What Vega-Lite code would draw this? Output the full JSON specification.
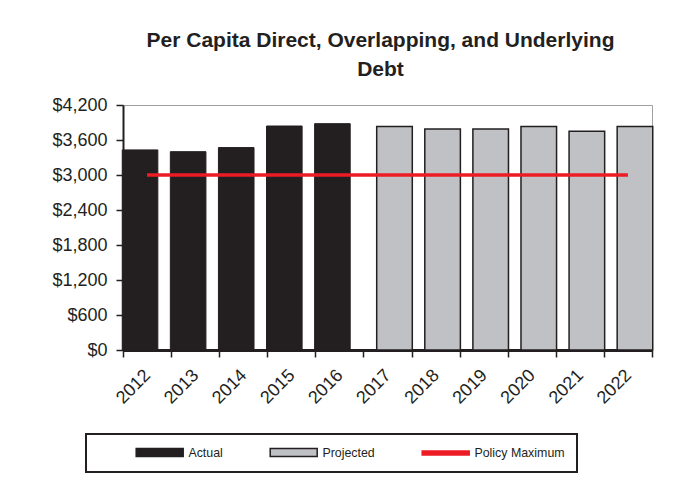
{
  "$schema": "https://vega.github.io/schema/vega-lite/v6.json",
  "width": 529,
  "height": 245,
  "autosize": {"type": "none"},
  "padding": {"left": 123, "top": 105, "right": 28, "bottom": 132},
  "background": "white",
  "title": {
    "text": ["Per Capita Direct, Overlapping,  and Underlying", "Debt"],
    "font": "Liberation Sans",
    "fontSize": 21,
    "fontWeight": "bold",
    "color": "#231f20",
    "lineHeight": 29,
    "dx": -7,
    "offset": 16
  },
  "config": {
    "view": {"stroke": "#a0a0a0", "strokeWidth": 1},
    "font": "Liberation Sans"
  },
  "datasets": {
    "debt": [
      {"year": "2012", "value": 3430, "type": "Actual"},
      {"year": "2013", "value": 3400, "type": "Actual"},
      {"year": "2014", "value": 3470, "type": "Actual"},
      {"year": "2015", "value": 3840, "type": "Actual"},
      {"year": "2016", "value": 3880, "type": "Actual"},
      {"year": "2017", "value": 3830, "type": "Projected"},
      {"year": "2018", "value": 3790, "type": "Projected"},
      {"year": "2019", "value": 3790, "type": "Projected"},
      {"year": "2020", "value": 3830, "type": "Projected"},
      {"year": "2021", "value": 3750, "type": "Projected"},
      {"year": "2022", "value": 3830, "type": "Projected"}
    ],
    "policy": [
      {"year": "2012", "value": 3000, "type": "Policy Maximum"},
      {"year": "2013", "value": 3000, "type": "Policy Maximum"},
      {"year": "2014", "value": 3000, "type": "Policy Maximum"},
      {"year": "2015", "value": 3000, "type": "Policy Maximum"},
      {"year": "2016", "value": 3000, "type": "Policy Maximum"},
      {"year": "2017", "value": 3000, "type": "Policy Maximum"},
      {"year": "2018", "value": 3000, "type": "Policy Maximum"},
      {"year": "2019", "value": 3000, "type": "Policy Maximum"},
      {"year": "2020", "value": 3000, "type": "Policy Maximum"},
      {"year": "2021", "value": 3000, "type": "Policy Maximum"},
      {"year": "2022", "value": 3000, "type": "Policy Maximum"}
    ]
  },
  "layer": [
    {
      "data": {"name": "debt"},
      "transform": [{"filter": "datum.type === 'Actual'"}],
      "mark": {"type": "bar", "xOffset": -7, "width": {"band": 0.74}, "strokeWidth": 1},
      "encoding": {
        "x": {
          "field": "year", "type": "ordinal",
          "scale": {"paddingInner": 0, "paddingOuter": 0},
          "axis": {
            "title": null, "labelAngle": -45, "labelFontSize": 18, "labelColor": "#231f20",
            "domainColor": "#231f20", "domainWidth": 3, "tickColor": "#231f20", "tickWidth": 1.5,
            "tickSize": 7, "tickBand": "extent", "labelPadding": 9, "labelOffset": -6,
            "labelOverlap": false, "grid": false
          }
        },
        "y": {
          "field": "value", "type": "quantitative",
          "scale": {"domain": [0, 4200], "nice": false},
          "axis": {
            "title": null, "values": [0, 600, 1200, 1800, 2400, 3000, 3600, 4200], "tickCount": 20,
            "format": "$,.0f", "labelFontSize": 18, "labelColor": "#231f20",
            "labelOverlap": false, "labelBound": false,
            "domainColor": "#231f20", "domainWidth": 2, "tickColor": "#231f20", "tickWidth": 1.5,
            "tickSize": 7, "labelPadding": 9, "grid": false
          }
        },
        "fill": {
          "field": "type", "type": "nominal",
          "scale": {"domain": ["Actual", "Projected", "Policy Maximum"], "range": ["#231f20", "#c0c1c5", "#ed1c24"]},
          "legend": {
            "orient": "none", "legendX": -37, "legendY": 329, "direction": "horizontal",
            "title": null,
            "padding": 12, "columnPadding": 9, "symbolSize": 64,
            "symbolType": "M8,-1H19.75V1H8Z", "labelOffset": 78, "labelFontSize": 12.4,
            "labelFont": "Liberation Sans", "labelColor": "#231f20", "symbolStrokeWidth": 1.5,
            "labelExpr": "datum.value === 'Policy Maximum' ? datum.label + '\u00a0\u00a0\u00a0\u00a0\u00a0\u00a0\u00a0\u00a0' : datum.label",
            "encode": {
              "legend": {"update": {"stroke": {"value": "#231f20"}, "strokeWidth": {"value": 2}}},
              "symbols": {"update": {"shape": {"signal": "datum.value === 'Policy Maximum' ? 'M8,-0.5H19.75V0.5H8Z' : 'M8,-1H19.75V1H8Z'"}}}
            }
          }
        },
        "stroke": {
          "field": "type", "type": "nominal",
          "scale": {"domain": ["Actual", "Projected", "Policy Maximum"], "range": ["#231f20", "#231f20", "#ed1c24"]}
        }
      }
    },
    {
      "data": {"name": "debt"},
      "transform": [{"filter": "datum.type === 'Projected'"}],
      "mark": {"type": "bar", "xOffset": 7, "width": {"band": 0.74}, "strokeWidth": 1.5},
      "encoding": {
        "x": {"field": "year", "type": "ordinal"},
        "y": {"field": "value", "type": "quantitative"},
        "fill": {"field": "type", "type": "nominal"},
        "stroke": {"field": "type", "type": "nominal"}
      }
    },
    {
      "data": {"name": "policy"},
      "mark": {"type": "line", "strokeWidth": 3.5},
      "encoding": {
        "x": {"field": "year", "type": "ordinal"},
        "y": {"field": "value", "type": "quantitative"},
        "stroke": {"field": "type", "type": "nominal"}
      }
    }
  ]
}
